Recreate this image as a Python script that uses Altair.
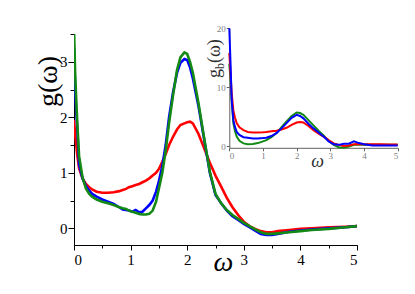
import altair as alt
import pandas as pd

# ---------------- data ----------------
X_MAIN = [0, 0.02, 0.04, 0.06, 0.09, 0.15, 0.21, 0.27, 0.32, 0.4, 0.5, 0.6, 0.7, 0.8,
          0.86, 0.92, 0.97, 1.03, 1.09, 1.15, 1.21, 1.27, 1.33, 1.39, 1.45, 1.5, 1.56,
          1.62, 1.68, 1.75, 1.82, 1.88, 1.95, 2.0, 2.05, 2.1, 2.2, 2.3, 2.4, 2.5, 2.6,
          2.7, 2.8, 2.9, 3.0, 3.1, 3.2, 3.3, 3.4, 3.5, 3.6, 3.8, 4.0, 4.2, 4.5, 4.8, 5.0]
RED_MAIN = [1.95, 1.7, 1.5, 1.3, 1.08, 0.9, 0.8, 0.74, 0.70, 0.66, 0.64, 0.64, 0.65, 0.67,
            0.69, 0.71, 0.74, 0.76, 0.78, 0.80, 0.83, 0.86, 0.90, 0.95, 1.00, 1.07, 1.20,
            1.34, 1.50, 1.65, 1.78, 1.86, 1.89, 1.91, 1.92, 1.89, 1.70, 1.44, 1.18, 0.95, 0.75,
            0.55, 0.38, 0.24, 0.12, 0.04, -0.01, -0.05, -0.07, -0.07, -0.05, -0.03, -0.01, 0.0, 0.02, 0.03, 0.04]
BLUE_MAIN = [3.25, 2.5, 2.1, 1.75, 1.15, 0.9, 0.76, 0.68, 0.62, 0.57, 0.52, 0.48, 0.44, 0.38,
             0.34, 0.33, 0.32, 0.30, 0.33, 0.29, 0.30, 0.36, 0.42, 0.50, 0.66, 0.85, 1.12,
             1.5, 2.0, 2.45, 2.8, 2.98, 3.05, 3.03, 2.9, 2.7, 2.2, 1.6, 1.0, 0.6, 0.45,
             0.32, 0.22, 0.15, 0.08, 0.02, -0.04, -0.10, -0.12, -0.12, -0.10, -0.06, -0.04, -0.02, 0.0, 0.02, 0.04]
GREEN_MAIN = [3.6, 2.8, 2.3, 1.85, 1.3, 0.92, 0.72, 0.62, 0.57, 0.52, 0.48, 0.45, 0.42, 0.38,
              0.36, 0.35, 0.32, 0.30, 0.28, 0.26, 0.25, 0.25, 0.26, 0.32, 0.48, 0.72, 1.0,
              1.4, 1.9, 2.4, 2.85, 3.08, 3.17, 3.14, 3.0, 2.8, 2.25, 1.62, 1.02, 0.62, 0.45,
              0.33, 0.24, 0.17, 0.10, 0.04, -0.02, -0.07, -0.10, -0.10, -0.09, -0.07, -0.05, -0.03, -0.01, 0.02, 0.04]

X_INSET = [0, 0.04, 0.07, 0.12, 0.17, 0.22, 0.3, 0.42, 0.55, 0.7, 0.85, 1.0, 1.1, 1.25, 1.4,
           1.55, 1.7, 1.85, 2.0, 2.1, 2.2, 2.35, 2.5, 2.65, 2.8, 2.95, 3.1, 3.25, 3.4, 3.55,
           3.7, 3.85, 4.0, 4.25, 4.5, 4.75, 5.0]
RED_INSET = [15.8, 12, 9.0, 6.1, 4.8, 3.9, 3.2, 2.7, 2.4, 2.3, 2.3, 2.35, 2.4, 2.5, 2.6,
             2.8, 3.1, 3.6, 4.0, 4.1, 4.0, 3.4, 2.7, 2.1, 1.6, 1.0, 0.45, 0.2, 0.0, 0.1,
             0.3, 0.35, 0.3, 0.3, 0.3, 0.25, 0.25]
BLUE_INSET = [20, 13.5, 8.0, 4.4, 3.2, 2.4, 1.9, 1.5, 1.4, 1.3, 1.3, 1.35, 1.4, 1.7, 2.2,
              3.0, 3.9, 4.8, 5.3, 5.1, 4.7, 3.8, 3.0, 2.3, 1.6, 0.8, 0.3, 0.2, 0.4, 0.4,
              0.8, 0.5, 0.3, 0.1, 0.1, 0.1, 0.1]
GREEN_INSET = [14, 11, 7.9, 3.9, 2.5, 1.6, 0.9, 0.45, 0.3, 0.35, 0.5, 0.8, 1.0, 1.5, 2.2,
               3.2, 4.2, 5.1, 5.7, 5.6, 5.3, 4.4, 3.5, 2.6, 1.8, 0.9, 0.2, -0.2, -0.3, -0.1,
               0.2, 0.2, 0.2, 0.2, 0.2, 0.2, 0.2]

MAIN_X_TICKS = [0, 1, 2, 3, 4, 5]
MAIN_X_MINOR = [0.5, 1.5, 2.5, 3.5, 4.5]
MAIN_Y_TICKS = [0, 1, 2, 3]
MAIN_Y_MINOR = [0.5, 1.5, 2.5, 3.5]
INSET_X_TICKS = [0, 1, 2, 3, 4, 5]
INSET_Y_TICKS = [0, 10, 20]

RED, BLUE, GREEN = "#ff0000", "#0000ff", "#138a13"
SERIF = "'Liberation Serif', 'Times New Roman', serif"

W, H = 283, 211


def frame(xs, ys):
    return pd.DataFrame({"x": xs, "y": ys})


MX_SCALE = alt.Scale(domain=[0, 5], nice=False, zero=False)
MY_SCALE = alt.Scale(domain=[-0.3, 3.5], nice=False, zero=False)

mx = alt.X("x:Q", scale=MX_SCALE,
           axis=alt.Axis(orient="bottom", values=MAIN_X_TICKS, format="d", grid=False,
                         tickSize=5, labelPadding=2, labelFont=SERIF, labelFontSize=15,
                         labelColor="black", domainColor="black", tickColor="black",
                         title="ω", titleFont=SERIF, titleFontSize=28, titleFontStyle="italic",
                         titleFontWeight="normal", titleX=149, titleY=17,
                         titleBaseline="middle", titleAlign="center"))
my = alt.Y("y:Q", scale=MY_SCALE,
           axis=alt.Axis(orient="left", values=MAIN_Y_TICKS, format="d", grid=False,
                         tickSize=6, labelPadding=1, labelFont=SERIF, labelFontSize=15,
                         labelColor="black", domainColor="black", tickColor="black",
                         title="g(ω)", titleFont=SERIF, titleFontSize=28,
                         titleFontWeight="normal", titleX=-26, titleY=47,
                         titleBaseline="middle", titleAlign="center"))


def main_line(ys, color):
    return alt.Chart(frame(X_MAIN, ys)).mark_line(
        color=color, strokeWidth=2.6, clip=True).encode(x=mx, y=my)


main = alt.layer(main_line(RED_MAIN, RED), main_line(BLUE_MAIN, BLUE),
                 main_line(GREEN_MAIN, GREEN))

# invisible layer that only carries the shorter minor ticks of the main axes
minor = alt.Chart(frame(X_MAIN, RED_MAIN)).mark_line(opacity=0).encode(
    x=alt.X("x:Q", scale=MX_SCALE,
            axis=alt.Axis(orient="bottom", values=MAIN_X_MINOR, labels=False, grid=False,
                          tickSize=3, domainColor="black", tickColor="black", title=None)),
    y=alt.Y("y:Q", scale=MY_SCALE,
            axis=alt.Axis(orient="left", values=MAIN_Y_MINOR, labels=False, grid=False,
                          tickSize=4, domainColor="black", tickColor="black", title=None)))

ix = alt.X("x:Q", scale=alt.Scale(domain=[0, 5], range=[155.3, 323.7], nice=False, zero=False),
           axis=alt.Axis(orient="bottom", offset=-97.2, values=INSET_X_TICKS, grid=False,
                         tickSize=3, labelPadding=1, labelFont=SERIF, labelFontSize=9,
                         labelColor="#808080", domainColor="#606060", tickColor="#606060",
                         title="ω", titleFont=SERIF, titleFontSize=18, titleFontStyle="italic",
                         titleFontWeight="normal", titleColor="#303030",
                         titleX=243, titleY=14, titleBaseline="middle", titleAlign="center"))
iy = alt.Y("y:Q", scale=alt.Scale(domain=[-0.3, 20], range=[113.8, -5.7], nice=False, zero=False),
           axis=alt.Axis(orient="left", offset=-155.3, values=INSET_Y_TICKS, grid=False,
                         tickSize=3, labelPadding=1, labelFont=SERIF, labelFontSize=9,
                         labelColor="#808080", domainColor="#606060", tickColor="#606060",
                         title=None))


def inset_line(ys, color):
    return alt.Chart(frame(X_INSET, ys)).mark_line(
        color=color, strokeWidth=2).encode(x=ix, y=iy)


inset = alt.layer(inset_line(GREEN_INSET, GREEN), inset_line(RED_INSET, RED),
                  inset_line(BLUE_INSET, BLUE))

one = alt.Data(values=[{}])


def label(txt, x, y, size):
    return alt.Chart(one).mark_text(
        text=txt, font=SERIF, fontSize=size, angle=270, align="left",
        baseline="alphabetic", color="#303030").encode(x=alt.value(x), y=alt.value(y))


inset_title = alt.layer(label("g", 146, 44, 18), label("b", 150, 35, 12),
                        label("(ω)", 146, 29, 18))

chart = alt.layer(main, minor, inset, inset_title).resolve_scale(
    x="independent", y="independent").properties(
    width=W, height=H,
    autosize=alt.AutoSizeParams(type="none"),
    padding={"left": 66, "top": 26, "right": 46, "bottom": 36},
).configure_view(strokeWidth=0)

chart.save("out.html", embed_options={"renderer": "svg", "actions": False})
